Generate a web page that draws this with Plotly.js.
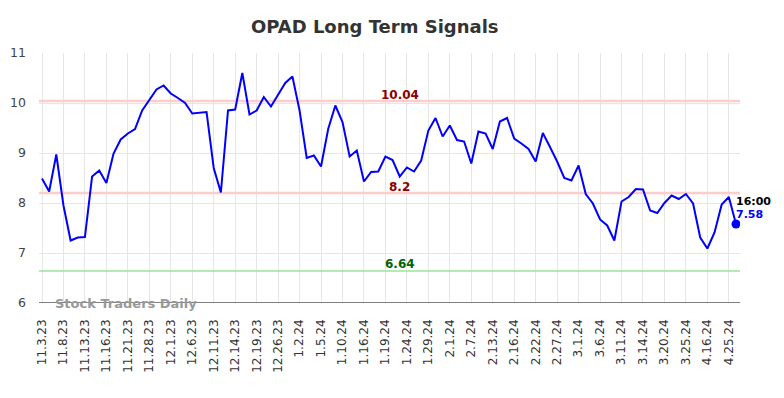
<!DOCTYPE html>
<html>
<head>
<meta charset="utf-8">
<script src="https://cdn.plot.ly/plotly-3.0.1.min.js"></script>
<style>html,body{margin:0;padding:0;background:#fff;}#chart{width:784px;height:398px;}</style>
</head>
<body>
<div id="chart"></div>
<script>
var tickLabels = ["11.3.23","11.8.23","11.13.23","11.16.23","11.21.23","11.28.23","12.1.23","12.6.23","12.11.23","12.14.23","12.19.23","12.26.23","1.2.24","1.5.24","1.10.24","1.16.24","1.19.24","1.24.24","1.29.24","2.1.24","2.7.24","2.13.24","2.16.24","2.22.24","2.27.24","3.1.24","3.6.24","3.11.24","3.14.24","3.20.24","3.25.24","4.16.24","4.25.24"];
var prices = [8.49,8.23,8.97,7.95,7.25,7.31,7.32,8.53,8.65,8.40,
  8.99,9.27,9.39,9.48,9.85,10.07,10.27,10.35,10.19,10.10,
  10.00,9.79,9.81,9.82,8.70,8.21,9.85,9.87,10.60,9.77,
  9.85,10.12,9.93,10.17,10.40,10.53,9.85,8.90,8.95,8.73,
  9.48,9.95,9.62,8.93,9.05,8.43,8.62,8.63,8.93,8.86,
  8.53,8.71,8.63,8.85,9.45,9.70,9.33,9.55,9.26,9.23,
  8.79,9.43,9.39,9.08,9.63,9.70,9.29,9.19,9.08,8.83,
  9.40,9.12,8.83,8.50,8.45,8.75,8.18,7.99,7.67,7.55,
  7.25,8.03,8.12,8.28,8.27,7.85,7.80,8.00,8.15,8.08,
  8.18,7.99,7.31,7.09,7.41,7.97,8.12,7.58];
var tickStep = 3;
var resistance = 10.04, middle = 8.2, support = 6.64;
var lastTime = "16:00";

var xs = prices.map(function(_, i){ return i; });
var tickVals = tickLabels.map(function(_, i){ return i * tickStep; });
var n = prices.length;
var midIdx = 50;
var xr = [-0.42, n - 1 + 0.56];

var traces = [
  {x:xr, y:[resistance,resistance], mode:'lines', line:{color:'#ffcccc', width:2.5}, hoverinfo:'skip'},
  {x:xr, y:[middle,middle], mode:'lines', line:{color:'#ffcccc', width:2.5}, hoverinfo:'skip'},
  {x:xr, y:[support,support], mode:'lines', line:{color:'#99e699', width:1.5}, hoverinfo:'skip'},
  {x:xs, y:prices, mode:'lines', line:{color:'#0000ff', width:2}},
  {x:[n-1], y:[prices[n-1]], mode:'markers', marker:{color:'#0000ff', size:9}}
];

var layout = {
  width:784, height:398,
  margin:{l:39, r:44, t:53, b:95},
  paper_bgcolor:'#fff', plot_bgcolor:'#fff',
  showlegend:false,
  title:{text:'<b>OPAD Long Term Signals</b>', x:0.478, xanchor:'center', y:0.932, yanchor:'middle',
    font:{family:'DejaVu Sans, sans-serif', size:18, color:'#333'}},
  xaxis:{range:xr, tickvals:tickVals, ticktext:tickLabels, tickangle:-90,
    showgrid:true, gridcolor:'#e6e6e6', gridwidth:1, zeroline:false, showline:false,
    ticks:'', ticklabelstandoff:13, tickfont:{family:'DejaVu Sans, sans-serif', size:12, color:'#333'}},
  yaxis:{range:[6,11], tickvals:[6,7,8,9,10,11], showgrid:true, gridcolor:'#e6e6e6', gridwidth:1,
    zeroline:false, showline:false, ticks:'', ticklabelstandoff:12,
    tickfont:{family:'DejaVu Sans, sans-serif', size:12.5, color:'#444'}},
  shapes:[{type:'line', xref:'paper', yref:'y', x0:0, x1:1, y0:6, y1:6, line:{color:'#555', width:1.5}}],
  annotations:[
    {x:midIdx, y:resistance, text:'<b>'+resistance.toFixed(2)+'</b>', showarrow:false, yanchor:'bottom', yshift:-3,
      font:{family:'DejaVu Sans, sans-serif', size:12, color:'#8b0000'}},
    {x:midIdx, y:middle, text:'<b>'+middle+'</b>', showarrow:false, yanchor:'bottom', yshift:-3,
      font:{family:'DejaVu Sans, sans-serif', size:12, color:'#8b0000'}},
    {x:midIdx, y:support, text:'<b>'+support+'</b>', showarrow:false, yanchor:'bottom', yshift:-2,
      font:{family:'DejaVu Sans, sans-serif', size:12, color:'#006400'}},
    {x:n-1, y:prices[n-1], text:'<b>'+lastTime+'</b>', showarrow:false, xanchor:'left', yanchor:'bottom', xshift:-2, yshift:14,
      font:{family:'DejaVu Sans, sans-serif', size:11, color:'#000'}},
    {x:n-1, y:prices[n-1], text:'<b>'+prices[n-1].toFixed(2)+'</b>', showarrow:false, xanchor:'left', yanchor:'bottom', xshift:-2, yshift:1,
      font:{family:'DejaVu Sans, sans-serif', size:11, color:'#0000ff'}},
    {xref:'paper', yref:'y', x:0.02, y:6, text:'<b>Stock Traders Daily</b>', showarrow:false, xanchor:'left', yanchor:'middle',
      font:{family:'DejaVu Sans, sans-serif', size:13, color:'#999'}}
  ]
};
Plotly.newPlot('chart', traces, layout, {staticPlot:true, displayModeBar:false});
</script>
</body>
</html>
